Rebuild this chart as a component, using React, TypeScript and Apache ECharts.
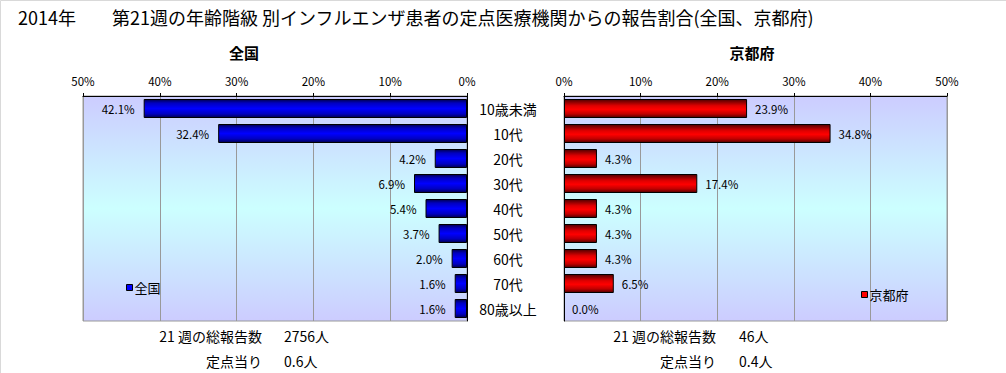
import React, { useEffect, useRef } from "react";
import * as echarts from "echarts";

const categories = ["10歳未満", "10代", "20代", "30代", "40代", "50代", "60代", "70代", "80歳以上"];
const nationalValues = [42.1, 32.4, 4.2, 6.9, 5.4, 3.7, 2.0, 1.6, 1.6];
const kyotoValues = [23.9, 34.8, 4.3, 17.4, 4.3, 4.3, 4.3, 6.5, 0.0];
const axisMax = 50;
const axisInterval = 10;
const week = 21;
const nationalTotal = 2756;
const nationalPerSite = 0.6;
const kyotoTotal = 46;
const kyotoPerSite = 0.4;

const FONT = "'Noto Sans CJK JP', 'Noto Sans', sans-serif";

export default function App() {
  const ref = useRef<HTMLDivElement>(null);

  useEffect(() => {
    if (!ref.current) return;
    const chart = echarts.init(ref.current, null, { renderer: "svg" });

    const bg = new echarts.graphic.LinearGradient(0, 0, 0, 1, [
      { offset: 0, color: "#CCCCFF" },
      { offset: 0.5, color: "#CCFFFF" },
      { offset: 1, color: "#CCCCFF" },
    ]);
    const blue = new echarts.graphic.LinearGradient(0, 0, 0, 1, [
      { offset: 0, color: "#000050" },
      { offset: 0.2, color: "#0000C0" },
      { offset: 0.5, color: "#0000FF" },
      { offset: 0.8, color: "#0000C0" },
      { offset: 1, color: "#000050" },
    ]);
    const red = new echarts.graphic.LinearGradient(0, 0, 0, 1, [
      { offset: 0, color: "#500000" },
      { offset: 0.35, color: "#E00000" },
      { offset: 0.55, color: "#FF0000" },
      { offset: 0.8, color: "#C00000" },
      { offset: 1, color: "#500000" },
    ]);

    const toBarData = (vals: number[]) =>
      vals.map((v) => (v === 0 ? { value: v, itemStyle: { borderWidth: 0 } } : v));

    const valueAxisCommon = {
      type: "value",
      min: 0,
      max: axisMax,
      interval: axisInterval,
      position: "top",
      axisLine: { show: true, lineStyle: { color: "#000", width: 1 } },
      axisTick: { show: true, length: 3, lineStyle: { color: "#000" } },
      axisLabel: {
        formatter: "{value}%",
        fontSize: 11.5,
        color: "#000",
        fontFamily: FONT,
        margin: 9,
      },
      splitLine: { show: true, lineStyle: { color: "#999", width: 1 } },
    };

    const txt = (x: number, y: number, text: string, size: number, extra: any = {}) => ({
      type: "text",
      x,
      y,
      style: {
        text,
        fontSize: size,
        fontFamily: FONT,
        fill: "#000",
        textVerticalAlign: "middle",
        ...extra,
      },
    });

    const labelFmt = (p: any) => Number(p.value).toFixed(1) + "%";

    chart.setOption({
      animation: false,
      backgroundColor: "#fff",
      grid: [
        {
          left: 83,
          right: 1006 - 467,
          top: 96,
          height: 225,
          show: true,
          backgroundColor: bg,
          borderColor: "#999",
          borderWidth: 1,
        },
        {
          left: 564,
          right: 1006 - 947,
          top: 96,
          height: 225,
          show: true,
          backgroundColor: bg,
          borderColor: "#999",
          borderWidth: 1,
        },
      ],
      legend: [
        {
          left: 121,
          top: 276,
          itemWidth: 6,
          itemHeight: 6,
          itemGap: 2,
          icon: "rect",
          textStyle: { fontSize: 13, fontFamily: FONT, color: "#000", padding: [0, 0, 0, -3] },
          data: [{ name: "全国", itemStyle: { color: "#0000FF", borderColor: "#000", borderWidth: 1 } }],
        },
        {
          left: 856,
          top: 283,
          itemWidth: 6,
          itemHeight: 6,
          itemGap: 2,
          icon: "rect",
          textStyle: { fontSize: 13, fontFamily: FONT, color: "#000", padding: [0, 0, 0, -3] },
          data: [{ name: "京都府", itemStyle: { color: "#FF0000", borderColor: "#000", borderWidth: 1 } }],
        },
      ],
      xAxis: [
        { ...valueAxisCommon, gridIndex: 0, inverse: true },
        { ...valueAxisCommon, gridIndex: 1 },
      ],
      yAxis: [
        {
          type: "category",
          gridIndex: 0,
          position: "right",
          inverse: true,
          data: categories,
          axisLine: { show: true, lineStyle: { color: "#000" } },
          axisTick: { show: false },
          axisLabel: {
            align: "center",
            margin: 41,
            fontSize: 14,
            color: "#000",
            fontFamily: FONT,
          },
        },
        {
          type: "category",
          gridIndex: 1,
          position: "left",
          inverse: true,
          data: categories,
          axisLine: { show: true, lineStyle: { color: "#000" } },
          axisTick: { show: false },
          axisLabel: { show: false },
        },
      ],
      series: [
        {
          name: "全国",
          type: "bar",
          xAxisIndex: 0,
          yAxisIndex: 0,
          data: toBarData(nationalValues),
          barCategoryGap: "24%",
          itemStyle: { color: blue, borderColor: "#000", borderWidth: 1 },
          label: {
            show: true,
            position: "left",
            distance: 9,
            formatter: labelFmt,
            fontSize: 11.5,
            color: "#000",
            fontFamily: FONT,
          },
        },
        {
          name: "京都府",
          type: "bar",
          xAxisIndex: 1,
          yAxisIndex: 1,
          data: toBarData(kyotoValues),
          barCategoryGap: "24%",
          itemStyle: { color: red, borderColor: "#000", borderWidth: 1 },
          label: {
            show: true,
            position: "right",
            distance: 8,
            formatter: labelFmt,
            fontSize: 11.5,
            color: "#000",
            fontFamily: FONT,
          },
        },
      ],
      graphic: [
        {
          type: "rect",
          shape: { x: 0.5, y: 0.5, width: 1020, height: 400 },
          style: { fill: "none", stroke: "#d9d9d9", lineWidth: 1 },
          silent: true,
        },
        txt(18, 17, "2014年　　第21週の年齢階級 別インフルエンザ患者の定点医療機関からの報告割合(全国、京都府)", 18),
        txt(244, 52, "全国", 15, { fontWeight: "bold", textAlign: "center" }),
        txt(752, 52, "京都府", 15, { fontWeight: "bold", textAlign: "center" }),
        txt(262, 336, `${week} 週の総報告数`, 14, { textAlign: "right" }),
        txt(284, 336, `${nationalTotal}人`, 14),
        txt(262, 361, "定点当り", 14, { textAlign: "right" }),
        txt(284, 361, `${nationalPerSite.toFixed(1)}人`, 14),
        txt(716, 336, `${week} 週の総報告数`, 14, { textAlign: "right" }),
        txt(739, 336, `${kyotoTotal}人`, 14),
        txt(716, 361, "定点当り", 14, { textAlign: "right" }),
        txt(739, 361, `${kyotoPerSite.toFixed(1)}人`, 14),
      ],
    });

    return () => chart.dispose();
  }, []);

  return (
    <div
      ref={ref}
      style={{ position: "fixed", left: 0, top: 0, width: 1006, height: 373, background: "#fff" }}
    />
  );
}
